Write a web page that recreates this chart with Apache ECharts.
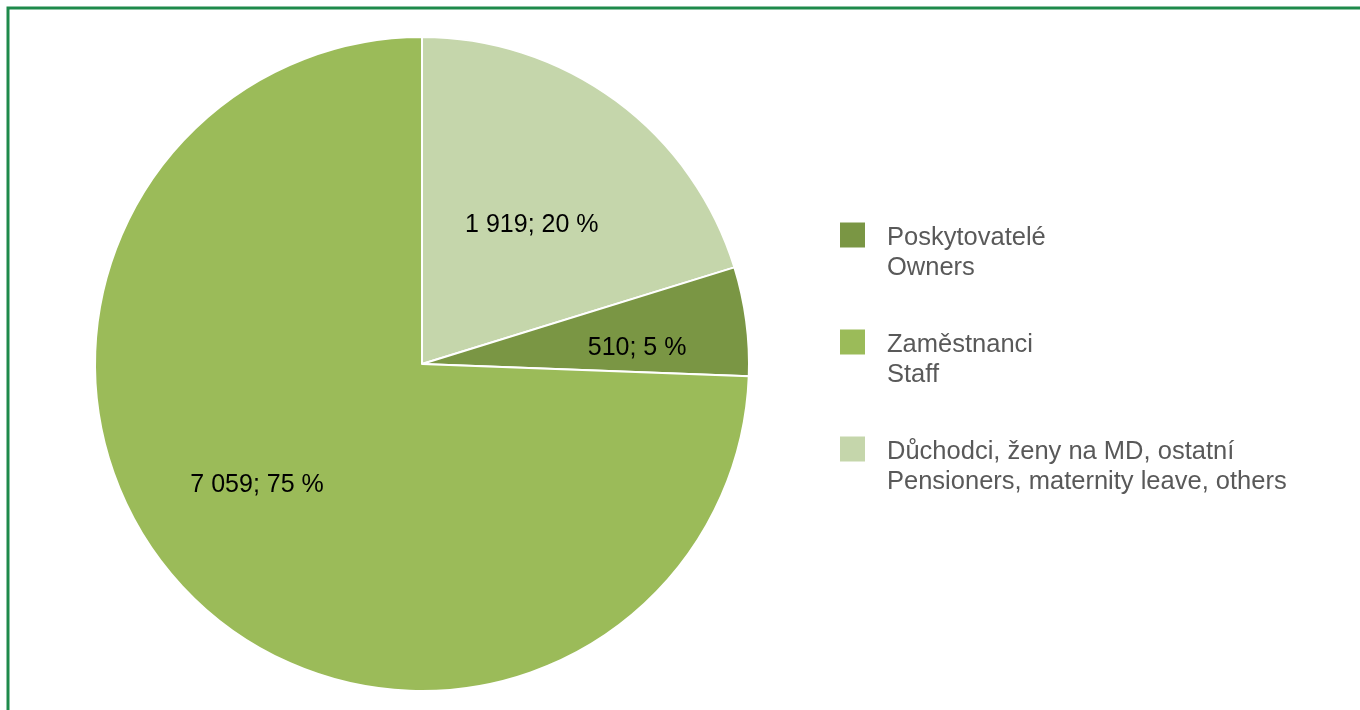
<!DOCTYPE html>
<html>
<head>
<meta charset="utf-8">
<script src="https://cdn.jsdelivr.net/npm/echarts@6/dist/echarts.min.js"></script>
<style>
  html, body { margin: 0; padding: 0; background: #fff; }
  #chart { width: 1360px; height: 710px; }
</style>
</head>
<body>
<div id="chart"></div>
<script>
// data, in drawing order (clockwise from 12 o'clock)
const names = [
  'Důchodci, ženy na MD, ostatní\nPensioners, maternity leave, others',
  'Poskytovatelé\nOwners',
  'Zaměstnanci\nStaff'
]
const values = [1919, 510, 7059]
// legend order
const legendOrder = [1, 2, 0]

const colors = ['#C5D6AB', '#7A9644', '#9BBB59']
// nudges for the inside labels, like the original layout
const labelOffsets = [[11, -5], [50, 6], [-45, 6]]

function fmtNum(v) {
  return String(v).replace(/\B(?=(\d{3})+(?!\d))/g, ' ')
}

const chart = echarts.init(document.getElementById('chart'))

const seriesData = values.map((v, i) => {
  return {
    name: names[i],
    value: v,
    itemStyle: { color: colors[i] },
    label: { offset: labelOffsets[i] }
  }
})

const option = {
  animation: false,
  graphic: [
    {
      type: 'rect',
      shape: { x: 8, y: 8, width: 1600, height: 1000 },
      style: { fill: 'none', stroke: '#1E8A4B', lineWidth: 3 },
      silent: true
    }
  ],
  legend: {
    orient: 'vertical',
    left: 838,
    top: 192,
    padding: 0,
    itemWidth: 27,
    itemHeight: 27,
    itemGap: 18,
    icon: 'rect',
    selectedMode: false,
    data: legendOrder.map(i => names[i]),
    // spacer line on top so the first text line sits level with the swatch
    formatter: (name) => {
      const lines = name.split('\n')
      return '{g| }\n' + lines.map(l => '{t|' + l + '}').join('\n')
    },
    textStyle: {
      fontFamily: 'Liberation Sans, Arial, sans-serif',
      fontSize: 25.5,
      color: '#595959',
      padding: [0, 0, 0, 16],
      rich: {
        g: { lineHeight: 36, fontSize: 25.5 },
        t: {
          lineHeight: 30,
          fontSize: 25.5,
          color: '#595959',
          fontFamily: 'Liberation Sans, Arial, sans-serif'
        }
      }
    }
  },
  series: [
    {
      type: 'pie',
      center: [422, 364],
      radius: 327,
      startAngle: 90,
      clockwise: true,
      silent: true,
      percentPrecision: 0,
      itemStyle: { borderColor: '#fff', borderWidth: 2 },
      emphasis: { disabled: true },
      labelLine: { show: false },
      label: {
        show: true,
        position: 'inside',
        fontFamily: 'Liberation Sans, Arial, sans-serif',
        fontSize: 25,
        color: '#000',
        formatter: (p) => fmtNum(p.value) + '; ' + p.percent + ' %'
      },
      data: seriesData
    }
  ]
}

chart.setOption(option)
</script>
</body>
</html>
